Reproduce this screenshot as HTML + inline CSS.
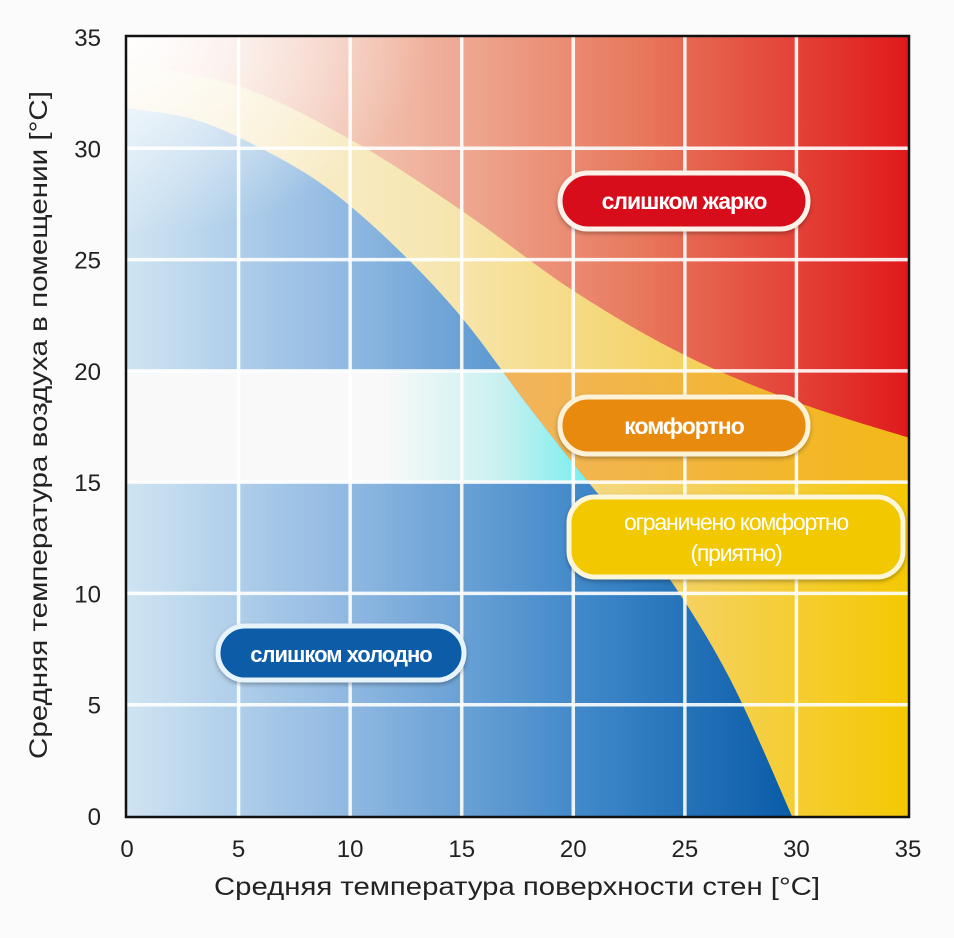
<!DOCTYPE html>
<html><head><meta charset="utf-8">
<style>
html,body{margin:0;padding:0;background:#fbfbfb;}
svg{display:block;font-family:"Liberation Sans","DejaVu Sans",sans-serif;}
</style></head>
<body>
<svg id="chart" width="954" height="938" viewBox="0 0 954 938">
<defs>
<linearGradient id="gRed" x1="0" x2="1" y1="0" y2="0">
<stop offset="0" stop-color="#fbf0ea"/><stop offset="0.35" stop-color="#f0b8a4"/><stop offset="0.65" stop-color="#e87a5e"/><stop offset="1" stop-color="#e01a1c"/></linearGradient>
<linearGradient id="gYel" x1="0" x2="1" y1="0" y2="0">
<stop offset="0" stop-color="#fbf4e6"/><stop offset="0.4" stop-color="#f6e6b0"/><stop offset="0.7" stop-color="#f5d264"/><stop offset="1" stop-color="#f5c800"/></linearGradient>
<linearGradient id="gBlue" x1="0" x2="1" y1="0" y2="0">
<stop offset="0" stop-color="#cfe4f2"/><stop offset="0.35" stop-color="#8cb6e0"/><stop offset="0.7" stop-color="#3d86c8"/><stop offset="1" stop-color="#0a5ca8"/></linearGradient>
<linearGradient id="gBand" x1="0" x2="1" y1="0" y2="0">
<stop offset="0" stop-color="#f9f9f9"/><stop offset="0.33" stop-color="#f9f9f9"/><stop offset="0.48" stop-color="#c8f0f0"/><stop offset="0.6" stop-color="#70eeee"/><stop offset="1" stop-color="#70eeee"/></linearGradient>
<linearGradient id="gOr" x1="0" x2="1" y1="0" y2="0">
<stop offset="0.5" stop-color="#f2b45a"/><stop offset="1" stop-color="#f3b818"/></linearGradient>
<radialGradient id="gFade" cx="0" cy="0" r="1">
<stop offset="0" stop-color="#ffffff" stop-opacity="0.95"/><stop offset="1" stop-color="#ffffff" stop-opacity="0"/></radialGradient>
<clipPath id="cPlot"><rect x="127" y="37" width="781" height="779"/></clipPath>
<clipPath id="cBlue"><path id="cBluePath"/></clipPath>
<clipPath id="cYel"><path id="cYelPath"/></clipPath>
<filter id="sh" x="-10%" y="-20%" width="120%" height="150%"><feDropShadow dx="0" dy="2" stdDeviation="2" flood-color="#000" flood-opacity="0.3"/></filter>
</defs>
<g id="layers" clip-path="url(#cPlot)"></g>
<g id="grid"></g>
<rect x="126" y="36" width="783" height="781" fill="none" stroke="#111" stroke-width="2.5"/>
<g id="ticks"></g>

<g filter="url(#sh)">
<rect x="560" y="173" width="248" height="56" rx="28" fill="#d8101c" stroke="#fdf2ea" stroke-width="5"/>
<text x="684" y="209" text-anchor="middle" fill="#fff" font-size="23" font-weight="bold" letter-spacing="-1">слишком жарко</text></g>
<g filter="url(#sh)">
<rect x="560" y="397" width="248" height="57" rx="28" fill="#e88a10" stroke="#fdf2d8" stroke-width="5"/>
<text x="684" y="434" text-anchor="middle" fill="#fff" font-size="23" font-weight="bold" letter-spacing="-1">комфортно</text></g>
<g filter="url(#sh)">
<rect x="569" y="497" width="334" height="80" rx="26" fill="#f2c800" stroke="#fdf6d8" stroke-width="5"/>
<text x="736" y="530" text-anchor="middle" fill="#fff" font-size="23" letter-spacing="-1.2">ограничено комфортно</text>
<text x="736" y="561" text-anchor="middle" fill="#fff" font-size="23" letter-spacing="-1.2">(приятно)</text></g>
<g filter="url(#sh)">
<rect x="218" y="626" width="246" height="54" rx="27" fill="#0a5ca8" stroke="#e8f4fc" stroke-width="5"/>
<text x="341" y="662" text-anchor="middle" fill="#fff" font-size="22" font-weight="bold" letter-spacing="-1">слишком холодно</text></g>

<text x="517" y="895" text-anchor="middle" font-size="25" fill="#222" textLength="606" lengthAdjust="spacingAndGlyphs">Средняя температура поверхности стен [°C]</text>
<text transform="translate(47,425) rotate(-90)" text-anchor="middle" font-size="25" fill="#222" textLength="668" lengthAdjust="spacingAndGlyphs">Средняя температура воздуха в помещении [°C]</text>
</svg>
<script>
const xTicks = [0,5,10,15,20,25,30,35];
const yTicks = [0,5,10,15,20,25,30,35];
const coldX = [0,3,6,9,12,15,18,21,24,27,29.8];
const coldY = [31.8,31.3,30.0,28.2,25.6,22.4,18.4,14.6,11.1,6.2,0];
const hotX = [0,5,10,15,20,25,30,35];
const hotY = [33.8,32.8,30.4,27.2,23.6,20.7,18.6,17.0];
const bandLow = 15, bandHigh = 20;

const NS="http://www.w3.org/2000/svg";
const X0=127,X1=908,Y0=816,Y1=37;
function sx(v){return X0+(X1-X0)*v/35;}
function sy(v){return Y0-(Y0-Y1)*v/35;}
function el(tag,attrs,parent){const e=document.createElementNS(NS,tag);for(const k in attrs)e.setAttribute(k,attrs[k]);parent.appendChild(e);return e;}
function smooth(xs,ys){
  const p=xs.map((x,i)=>[sx(x),sy(ys[i])]);
  let d="M"+p[0][0]+","+p[0][1];
  for(let i=0;i<p.length-1;i++){
    const a=p[Math.max(0,i-1)],b=p[i],c=p[i+1],e=p[Math.min(p.length-1,i+2)];
    const c1=[b[0]+(c[0]-a[0])/6,b[1]+(c[1]-a[1])/6],c2=[c[0]-(e[0]-b[0])/6,c[1]-(e[1]-b[1])/6];
    d+=" C"+c1[0]+","+c1[1]+" "+c2[0]+","+c2[1]+" "+c[0]+","+c[1];
  }
  return d;
}
const coldCurve=smooth(coldX,coldY);
const hotCurve=smooth(hotX,hotY);
const bluePath=coldCurve+" L"+sx(0)+","+(Y0+5)+" L"+sx(0)+","+sy(coldY[0])+" Z";
const yelPath=hotCurve+" L"+(X1+5)+","+(Y0+5)+" L"+sx(0)+","+(Y0+5)+" Z";
document.getElementById('cBluePath').setAttribute('d',bluePath);
document.getElementById('cYelPath').setAttribute('d',yelPath);

const L=document.getElementById('layers');
const r1=el('rect',{x:X0,y:Y1,width:X1-X0,height:Y0-Y1,fill:'url(#gRed)'},L);


const yl=el('path',{d:yelPath,fill:'url(#gYel)'},L);


const ob=el('rect',{x:X0,y:sy(bandHigh),width:X1-X0,height:sy(bandLow)-sy(bandHigh),fill:'url(#gOr)','clip-path':'url(#cYel)'},L);


const bl=el('path',{d:bluePath,fill:'url(#gBlue)'},L);


const cb=el('rect',{x:X0,y:sy(bandHigh),width:X1-X0,height:sy(bandLow)-sy(bandHigh),fill:'url(#gBand)','clip-path':'url(#cBlue)'},L);


const fd=el('rect',{x:X0,y:Y1,width:300,height:200,fill:'url(#gFade)'},L);



const G=document.getElementById('grid');
xTicks.slice(1,-1).forEach(t=>{
  const g=el('line',{x1:sx(t),x2:sx(t),y1:Y1,y2:Y0,stroke:'#fff','stroke-width':3.5,'stroke-opacity':0.9},G);
  
  
});
yTicks.slice(1,-1).forEach(t=>{
  const g=el('line',{x1:X0,x2:X1,y1:sy(t),y2:sy(t),stroke:'#fff','stroke-width':3.5,'stroke-opacity':0.9},G);
  
  
});
const T=document.getElementById('ticks');
xTicks.forEach(t=>{
  const e=el('text',{x:sx(t),y:857,'text-anchor':'middle','font-size':24,fill:'#222'},T);
  e.textContent=t;
  
  
});
yTicks.forEach(t=>{
  const e=el('text',{x:101,y:sy(t)+9,'text-anchor':'end','font-size':24,fill:'#222'},T);
  e.textContent=t;
  
  
});
</script>
</body></html>
